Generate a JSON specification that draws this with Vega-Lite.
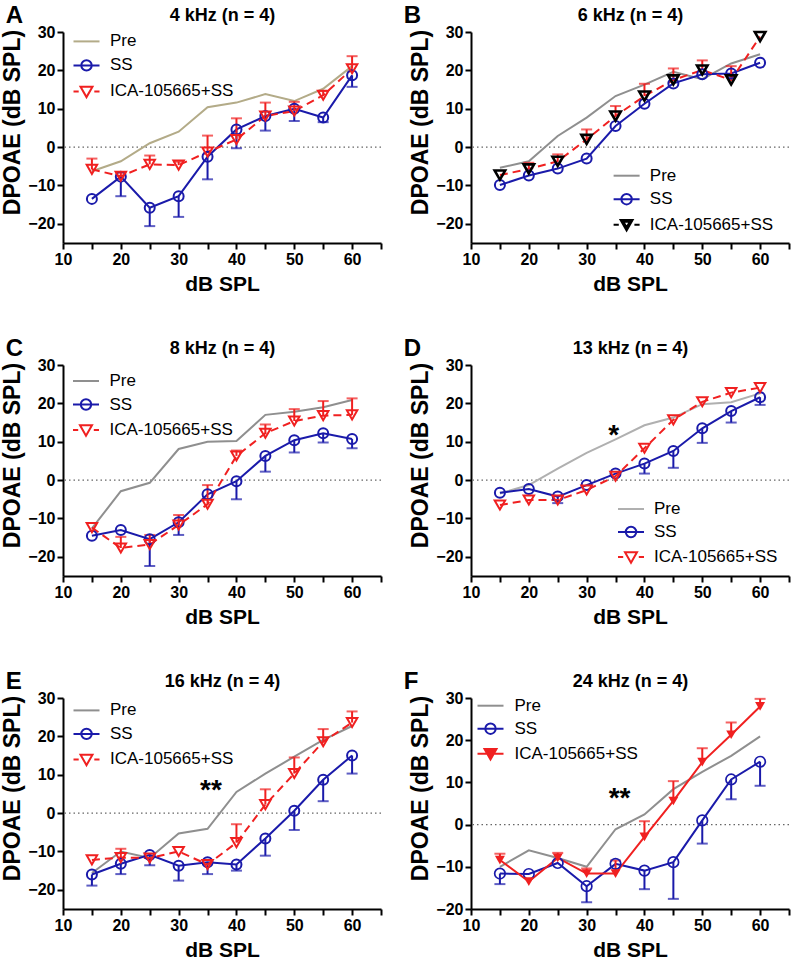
{
"$schema": "https://vega.github.io/schema/vega-lite/v6.json",
"background": "white",
"padding": {"left": 1, "top": 4, "right": 2, "bottom": 2},
"columns": 2,
"spacing": {"row": 122, "column": 90},
"bounds": "flush",
"resolve": {"scale": {"color": "independent", "shape": "independent"}, "legend": {"color": "independent", "shape": "independent"}},
"config": {
  "font": "Liberation Sans",
  "view": {"stroke": null},
  "title": {"fontSize": 24, "fontWeight": "bold", "color": "#000"},
  "axis": {"labelFont": "Liberation Sans", "labelFontWeight": "bold", "labelFontSize": 16, "labelColor": "#000", "titleFont": "Liberation Sans", "titleFontWeight": "bold", "titleFontSize": 21, "titleColor": "#000", "domainColor": "#000", "domainWidth": 2, "tickColor": "#000", "tickWidth": 2, "tickSize": 6, "grid": false, "labelFlush": false, "labelOverlap": false, "labelPadding": 2},
  "legend": {"labelFont": "Liberation Sans", "labelFontSize": 17, "labelColor": "#000", "symbolStrokeWidth": 2, "symbolSize": 676}
},
"concat": [
{
 "title": {"text": "A", "anchor": "start", "frame": "bounds", "offset": -22, "dx": 4},
 "width": 318, "height": 211,
 "resolve": {"axis": {"x": "independent", "y": "independent"}},
 "data": {"values": [
  {"spl":15,"pre":-6.3,"ss":-13.5,"ss_lo":null,"ica":-5.8,"ica_hi":-3.0},
  {"spl":20,"pre":-3.7,"ss":-7.7,"ss_lo":-12.8,"ica":-7.6,"ica_hi":-6.7},
  {"spl":25,"pre":1.0,"ss":-15.8,"ss_lo":-20.6,"ica":-4.5,"ica_hi":-2.2},
  {"spl":30,"pre":4.0,"ss":-12.8,"ss_lo":-18.2,"ica":-4.7,"ica_hi":-3.8},
  {"spl":35,"pre":10.4,"ss":-2.5,"ss_lo":-8.4,"ica":-1.3,"ica_hi":3.0},
  {"spl":40,"pre":11.6,"ss":4.6,"ss_lo":-0.3,"ica":2.0,"ica_hi":7.5},
  {"spl":45,"pre":13.8,"ss":8.1,"ss_lo":4.3,"ica":8.1,"ica_hi":11.6},
  {"spl":50,"pre":12.0,"ss":10.0,"ss_lo":6.8,"ica":9.4,"ica_hi":11.8},
  {"spl":55,"pre":15.2,"ss":7.7,"ss_lo":6.5,"ica":13.5,"ica_hi":14.6},
  {"spl":60,"pre":21.1,"ss":18.7,"ss_lo":15.7,"ica":20.4,"ica_hi":23.7}
 ]},
 "layer": [
  {"data": {"values": [{}]}, "mark": {"type": "rule", "color": "#666", "strokeWidth": 1.2, "strokeDash": [1.5, 3]}, "encoding": {"y": {"datum": 0, "type": "quantitative", "scale": {"domain": [-25, 30], "nice": false, "zero": false}, "axis": null}}},
  {"mark": {"type": "line", "color": "#b3ab88", "strokeWidth": 2}, "encoding": {"x": {"field": "spl", "type": "quantitative", "scale": {"domain": [10, 65], "nice": false, "zero": false}, "axis": {"values": [10,15,20,25,30,35,40,45,50,55,60,65], "labelExpr": "datum.value % 10 === 0 ? datum.label : ''", "title": "dB SPL", "titlePadding": 6}}, "y": {"field": "pre", "type": "quantitative", "scale": {"domain": [-25, 30], "nice": false, "zero": false}, "axis": {"values": [-20,-10,0,10,20,30], "title": "DPOAE (dB SPL)", "titleY": 90, "titleFontSize": 23, "titlePadding": 3}}}},
  {"transform": [{"filter": "isValid(datum.ss_lo)"}], "mark": {"type": "rule", "color": "#1a1aaa", "strokeWidth": 2}, "encoding": {"x": {"field": "spl", "type": "quantitative", "scale": {"domain": [10, 65], "nice": false, "zero": false}, "axis": null}, "y": {"field": "ss", "type": "quantitative", "scale": {"domain": [-25, 30], "nice": false, "zero": false}, "axis": null}, "y2": {"field": "ss_lo"}}},
  {"transform": [{"filter": "isValid(datum.ss_lo)"}], "mark": {"type": "tick", "orient": "horizontal", "color": "#1a1aaa", "size": 11, "thickness": 2}, "encoding": {"x": {"field": "spl", "type": "quantitative", "scale": {"domain": [10, 65], "nice": false, "zero": false}, "axis": null}, "y": {"field": "ss_lo", "type": "quantitative", "scale": {"domain": [-25, 30], "nice": false, "zero": false}, "axis": null}}},
  {"mark": {"type": "line", "color": "#1a1aaa", "strokeWidth": 2}, "encoding": {"x": {"field": "spl", "type": "quantitative", "scale": {"domain": [10, 65], "nice": false, "zero": false}, "axis": null}, "y": {"field": "ss", "type": "quantitative", "scale": {"domain": [-25, 30], "nice": false, "zero": false}, "axis": null}}},
  {"transform": [{"filter": "isValid(datum.ica_hi)"}], "mark": {"type": "rule", "color": "#f02020", "strokeWidth": 2}, "encoding": {"x": {"field": "spl", "type": "quantitative", "scale": {"domain": [10, 65], "nice": false, "zero": false}, "axis": null}, "y": {"field": "ica", "type": "quantitative", "scale": {"domain": [-25, 30], "nice": false, "zero": false}, "axis": null}, "y2": {"field": "ica_hi"}}},
  {"transform": [{"filter": "isValid(datum.ica_hi)"}], "mark": {"type": "tick", "orient": "horizontal", "color": "#f02020", "size": 11, "thickness": 2}, "encoding": {"x": {"field": "spl", "type": "quantitative", "scale": {"domain": [10, 65], "nice": false, "zero": false}, "axis": null}, "y": {"field": "ica_hi", "type": "quantitative", "scale": {"domain": [-25, 30], "nice": false, "zero": false}, "axis": null}}},
  {"mark": {"type": "line", "color": "#f02020", "strokeWidth": 2, "strokeDash": [8, 5]}, "encoding": {"x": {"field": "spl", "type": "quantitative", "scale": {"domain": [10, 65], "nice": false, "zero": false}, "axis": null}, "y": {"field": "ica", "type": "quantitative", "scale": {"domain": [-25, 30], "nice": false, "zero": false}, "axis": null}}},
  {"mark": {"type": "point", "shape": "circle", "filled": false, "size": 100, "strokeWidth": 2, "color": "#1a1aaa", "opacity": 1}, "encoding": {"x": {"field": "spl", "type": "quantitative", "scale": {"domain": [10, 65], "nice": false, "zero": false}, "axis": {"orient": "top", "title": "4 kHz (n = 4)", "labels": false, "ticks": false, "domain": false, "titleFontSize": 18, "titlePadding": 8}}, "y": {"field": "ss", "type": "quantitative", "scale": {"domain": [-25, 30], "nice": false, "zero": false}, "axis": null}}},
  {"mark": {"type": "point", "shape": "triangle-down", "filled": false, "size": 110, "strokeWidth": 2, "color": "#f02020", "opacity": 1}, "encoding": {"x": {"field": "spl", "type": "quantitative", "scale": {"domain": [10, 65], "nice": false, "zero": false}, "axis": null}, "y": {"field": "ica", "type": "quantitative", "scale": {"domain": [-25, 30], "nice": false, "zero": false}, "axis": null}}},
  {"data": {"values": [{"s": "Pre"}, {"s": "SS"}, {"s": "ICA-105665+SS"}]}, "transform": [{"filter": "false"}], "mark": {"type": "point", "filled": false, "strokeWidth": 2, "opacity": 1},
   "encoding": {
    "color": {"field": "s", "type": "nominal", "scale": {"domain": ["Pre", "SS", "ICA-105665+SS"], "range": ["#b3ab88", "#1a1aaa", "#f02020"]}, "legend": {"orient": "none", "legendX": 9.5, "legendY": -4.6, "padding": 0, "title": null, "symbolOffset": 0, "labelOffset": 9.5, "rowPadding": 2}},
    "shape": {"field": "s", "type": "nominal", "scale": {"domain": ["Pre", "SS", "ICA-105665+SS"], "range": ["M-1,0H1", "M-1,0H1M-0.4,0A0.4,0.4,0,1,0,0.4,0A0.4,0.4,0,1,0,-0.4,0", "M-1,0H-0.6M0.6,0H1M-0.46,-0.36L0.46,-0.36L0,0.44Z"]}, "legend": {"orient": "none", "legendX": 9.5, "legendY": -4.6, "padding": 0, "title": null, "symbolOffset": 0, "labelOffset": 9.5, "rowPadding": 2}}
   }}
 ]
},
{
 "title": {"text": "B", "anchor": "start", "frame": "bounds", "offset": -22, "dx": -6},
 "width": 318, "height": 211,
 "resolve": {"axis": {"x": "independent", "y": "independent"}},
 "data": {"values": [
  {"spl":15,"pre":-5.4,"ss":-9.9,"ss_lo":null,"ica":-7.3,"ica_hi":null},
  {"spl":20,"pre":-3.7,"ss":-7.4,"ss_lo":null,"ica":-5.7,"ica_hi":-4.1},
  {"spl":25,"pre":2.9,"ss":-5.6,"ss_lo":null,"ica":-3.7,"ica_hi":-1.9},
  {"spl":30,"pre":7.7,"ss":-3.0,"ss_lo":null,"ica":2.0,"ica_hi":4.6},
  {"spl":35,"pre":13.3,"ss":5.5,"ss_lo":null,"ica":8.1,"ica_hi":10.7},
  {"spl":40,"pre":16.3,"ss":11.3,"ss_lo":null,"ica":13.3,"ica_hi":16.5},
  {"spl":45,"pre":19.6,"ss":16.6,"ss_lo":null,"ica":17.5,"ica_hi":20.5},
  {"spl":50,"pre":17.7,"ss":19.0,"ss_lo":null,"ica":20.1,"ica_hi":22.6},
  {"spl":55,"pre":21.8,"ss":19.2,"ss_lo":null,"ica":17.5,"ica_hi":21.1},
  {"spl":60,"pre":24.2,"ss":22.0,"ss_lo":null,"ica":28.8,"ica_hi":null}
 ]},
 "layer": [
  {"data": {"values": [{}]}, "mark": {"type": "rule", "color": "#666", "strokeWidth": 1.2, "strokeDash": [1.5, 3]}, "encoding": {"y": {"datum": 0, "type": "quantitative", "scale": {"domain": [-25, 30], "nice": false, "zero": false}, "axis": null}}},
  {"mark": {"type": "line", "color": "#8f8f8f", "strokeWidth": 2}, "encoding": {"x": {"field": "spl", "type": "quantitative", "scale": {"domain": [10, 65], "nice": false, "zero": false}, "axis": {"values": [10,15,20,25,30,35,40,45,50,55,60,65], "labelExpr": "datum.value % 10 === 0 ? datum.label : ''", "title": "dB SPL", "titlePadding": 6}}, "y": {"field": "pre", "type": "quantitative", "scale": {"domain": [-25, 30], "nice": false, "zero": false}, "axis": {"values": [-20,-10,0,10,20,30], "title": "DPOAE (dB SPL)", "titleY": 90, "titleFontSize": 23, "titlePadding": 3}}}},
  {"mark": {"type": "line", "color": "#1a1aaa", "strokeWidth": 2}, "encoding": {"x": {"field": "spl", "type": "quantitative", "scale": {"domain": [10, 65], "nice": false, "zero": false}, "axis": null}, "y": {"field": "ss", "type": "quantitative", "scale": {"domain": [-25, 30], "nice": false, "zero": false}, "axis": null}}},
  {"transform": [{"filter": "isValid(datum.ica_hi)"}], "mark": {"type": "rule", "color": "#f02020", "strokeWidth": 2}, "encoding": {"x": {"field": "spl", "type": "quantitative", "scale": {"domain": [10, 65], "nice": false, "zero": false}, "axis": null}, "y": {"field": "ica", "type": "quantitative", "scale": {"domain": [-25, 30], "nice": false, "zero": false}, "axis": null}, "y2": {"field": "ica_hi"}}},
  {"transform": [{"filter": "isValid(datum.ica_hi)"}], "mark": {"type": "tick", "orient": "horizontal", "color": "#f02020", "size": 11, "thickness": 2}, "encoding": {"x": {"field": "spl", "type": "quantitative", "scale": {"domain": [10, 65], "nice": false, "zero": false}, "axis": null}, "y": {"field": "ica_hi", "type": "quantitative", "scale": {"domain": [-25, 30], "nice": false, "zero": false}, "axis": null}}},
  {"mark": {"type": "line", "color": "#f02020", "strokeWidth": 2, "strokeDash": [8, 5]}, "encoding": {"x": {"field": "spl", "type": "quantitative", "scale": {"domain": [10, 65], "nice": false, "zero": false}, "axis": null}, "y": {"field": "ica", "type": "quantitative", "scale": {"domain": [-25, 30], "nice": false, "zero": false}, "axis": null}}},
  {"mark": {"type": "point", "shape": "circle", "filled": false, "size": 100, "strokeWidth": 2, "color": "#1a1aaa", "opacity": 1}, "encoding": {"x": {"field": "spl", "type": "quantitative", "scale": {"domain": [10, 65], "nice": false, "zero": false}, "axis": {"orient": "top", "title": "6 kHz (n = 4)", "labels": false, "ticks": false, "domain": false, "titleFontSize": 18, "titlePadding": 8}}, "y": {"field": "ss", "type": "quantitative", "scale": {"domain": [-25, 30], "nice": false, "zero": false}, "axis": null}}},
  {"mark": {"type": "point", "shape": "triangle-down", "filled": false, "size": 110, "strokeWidth": 2.6, "color": "#000", "opacity": 1}, "encoding": {"x": {"field": "spl", "type": "quantitative", "scale": {"domain": [10, 65], "nice": false, "zero": false}, "axis": null}, "y": {"field": "ica", "type": "quantitative", "scale": {"domain": [-25, 30], "nice": false, "zero": false}, "axis": null}}},
  {"data": {"values": [{"s": "Pre"}, {"s": "SS"}, {"s": "ICA-105665+SS"}]}, "transform": [{"filter": "false"}], "mark": {"type": "point", "filled": false, "strokeWidth": 2, "opacity": 1},
   "encoding": {
    "color": {"field": "s", "type": "nominal", "scale": {"domain": ["Pre", "SS", "ICA-105665+SS"], "range": ["#8f8f8f", "#1a1aaa", "#000000"]}, "legend": {"orient": "none", "legendX": 141.6, "legendY": 129.7, "padding": 0, "title": null, "symbolOffset": 0, "labelOffset": 9.2, "rowPadding": 1.5}},
    "shape": {"field": "s", "type": "nominal", "scale": {"domain": ["Pre", "SS", "ICA-105665+SS"], "range": ["M-1,0H1", "M-1,0H1M-0.4,0A0.4,0.4,0,1,0,0.4,0A0.4,0.4,0,1,0,-0.4,0", "M-1,0H-0.6M0.6,0H1M-0.46,-0.36L0.46,-0.36L0,0.44ZM-0.25,-0.22L0.25,-0.22L0,0.2Z"]}, "legend": {"orient": "none", "legendX": 141.6, "legendY": 129.7, "padding": 0, "title": null, "symbolOffset": 0, "labelOffset": 9.2, "rowPadding": 1.5}}
   }}
 ]
},
{
 "title": {"text": "C", "anchor": "start", "frame": "bounds", "offset": -22, "dx": 4},
 "width": 318, "height": 211,
 "resolve": {"axis": {"x": "independent", "y": "independent"}},
 "data": {"values": [
  {"spl":15,"pre":-12.6,"ss":-14.5,"ss_lo":null,"ica":-12.4,"ica_hi":null},
  {"spl":20,"pre":-2.9,"ss":-13.0,"ss_lo":null,"ica":-17.7,"ica_hi":-14.8},
  {"spl":25,"pre":-0.7,"ss":-15.4,"ss_lo":-22.4,"ica":-16.8,"ica_hi":-14.3},
  {"spl":30,"pre":8.1,"ss":-11.0,"ss_lo":-14.3,"ica":-11.7,"ica_hi":-9.1},
  {"spl":35,"pre":10.0,"ss":-3.7,"ss_lo":null,"ica":-6.3,"ica_hi":-1.3},
  {"spl":40,"pre":10.2,"ss":-0.3,"ss_lo":-5.0,"ica":6.3,"ica_hi":7.7},
  {"spl":45,"pre":17.0,"ss":6.3,"ss_lo":2.2,"ica":12.2,"ica_hi":14.5},
  {"spl":50,"pre":17.8,"ss":10.4,"ss_lo":7.2,"ica":15.4,"ica_hi":18.5},
  {"spl":55,"pre":19.0,"ss":12.2,"ss_lo":9.8,"ica":16.8,"ica_hi":20.6},
  {"spl":60,"pre":20.9,"ss":10.7,"ss_lo":8.3,"ica":17.0,"ica_hi":21.3}
 ]},
 "layer": [
  {"data": {"values": [{}]}, "mark": {"type": "rule", "color": "#666", "strokeWidth": 1.2, "strokeDash": [1.5, 3]}, "encoding": {"y": {"datum": 0, "type": "quantitative", "scale": {"domain": [-25, 30], "nice": false, "zero": false}, "axis": null}}},
  {"mark": {"type": "line", "color": "#8f8f8f", "strokeWidth": 2}, "encoding": {"x": {"field": "spl", "type": "quantitative", "scale": {"domain": [10, 65], "nice": false, "zero": false}, "axis": {"values": [10,15,20,25,30,35,40,45,50,55,60,65], "labelExpr": "datum.value % 10 === 0 ? datum.label : ''", "title": "dB SPL", "titlePadding": 6}}, "y": {"field": "pre", "type": "quantitative", "scale": {"domain": [-25, 30], "nice": false, "zero": false}, "axis": {"values": [-20,-10,0,10,20,30], "title": "DPOAE (dB SPL)", "titleY": 90, "titleFontSize": 23, "titlePadding": 3}}}},
  {"transform": [{"filter": "isValid(datum.ss_lo)"}], "mark": {"type": "rule", "color": "#1a1aaa", "strokeWidth": 2}, "encoding": {"x": {"field": "spl", "type": "quantitative", "scale": {"domain": [10, 65], "nice": false, "zero": false}, "axis": null}, "y": {"field": "ss", "type": "quantitative", "scale": {"domain": [-25, 30], "nice": false, "zero": false}, "axis": null}, "y2": {"field": "ss_lo"}}},
  {"transform": [{"filter": "isValid(datum.ss_lo)"}], "mark": {"type": "tick", "orient": "horizontal", "color": "#1a1aaa", "size": 11, "thickness": 2}, "encoding": {"x": {"field": "spl", "type": "quantitative", "scale": {"domain": [10, 65], "nice": false, "zero": false}, "axis": null}, "y": {"field": "ss_lo", "type": "quantitative", "scale": {"domain": [-25, 30], "nice": false, "zero": false}, "axis": null}}},
  {"mark": {"type": "line", "color": "#1a1aaa", "strokeWidth": 2}, "encoding": {"x": {"field": "spl", "type": "quantitative", "scale": {"domain": [10, 65], "nice": false, "zero": false}, "axis": null}, "y": {"field": "ss", "type": "quantitative", "scale": {"domain": [-25, 30], "nice": false, "zero": false}, "axis": null}}},
  {"transform": [{"filter": "isValid(datum.ica_hi)"}], "mark": {"type": "rule", "color": "#f02020", "strokeWidth": 2}, "encoding": {"x": {"field": "spl", "type": "quantitative", "scale": {"domain": [10, 65], "nice": false, "zero": false}, "axis": null}, "y": {"field": "ica", "type": "quantitative", "scale": {"domain": [-25, 30], "nice": false, "zero": false}, "axis": null}, "y2": {"field": "ica_hi"}}},
  {"transform": [{"filter": "isValid(datum.ica_hi)"}], "mark": {"type": "tick", "orient": "horizontal", "color": "#f02020", "size": 11, "thickness": 2}, "encoding": {"x": {"field": "spl", "type": "quantitative", "scale": {"domain": [10, 65], "nice": false, "zero": false}, "axis": null}, "y": {"field": "ica_hi", "type": "quantitative", "scale": {"domain": [-25, 30], "nice": false, "zero": false}, "axis": null}}},
  {"mark": {"type": "line", "color": "#f02020", "strokeWidth": 2, "strokeDash": [8, 5]}, "encoding": {"x": {"field": "spl", "type": "quantitative", "scale": {"domain": [10, 65], "nice": false, "zero": false}, "axis": null}, "y": {"field": "ica", "type": "quantitative", "scale": {"domain": [-25, 30], "nice": false, "zero": false}, "axis": null}}},
  {"mark": {"type": "point", "shape": "circle", "filled": false, "size": 100, "strokeWidth": 2, "color": "#1a1aaa", "opacity": 1}, "encoding": {"x": {"field": "spl", "type": "quantitative", "scale": {"domain": [10, 65], "nice": false, "zero": false}, "axis": {"orient": "top", "title": "8 kHz (n = 4)", "labels": false, "ticks": false, "domain": false, "titleFontSize": 18, "titlePadding": 8}}, "y": {"field": "ss", "type": "quantitative", "scale": {"domain": [-25, 30], "nice": false, "zero": false}, "axis": null}}},
  {"mark": {"type": "point", "shape": "triangle-down", "filled": false, "size": 110, "strokeWidth": 2, "color": "#f02020", "opacity": 1}, "encoding": {"x": {"field": "spl", "type": "quantitative", "scale": {"domain": [10, 65], "nice": false, "zero": false}, "axis": null}, "y": {"field": "ica", "type": "quantitative", "scale": {"domain": [-25, 30], "nice": false, "zero": false}, "axis": null}}},
  {"data": {"values": [{"s": "Pre"}, {"s": "SS"}, {"s": "ICA-105665+SS"}]}, "transform": [{"filter": "false"}], "mark": {"type": "point", "filled": false, "strokeWidth": 2, "opacity": 1},
   "encoding": {
    "color": {"field": "s", "type": "nominal", "scale": {"domain": ["Pre", "SS", "ICA-105665+SS"], "range": ["#8f8f8f", "#1a1aaa", "#f02020"]}, "legend": {"orient": "none", "legendX": 9, "legendY": 2, "padding": 0, "title": null, "symbolOffset": 0, "labelOffset": 9.5, "rowPadding": 1.5}},
    "shape": {"field": "s", "type": "nominal", "scale": {"domain": ["Pre", "SS", "ICA-105665+SS"], "range": ["M-1,0H1", "M-1,0H1M-0.4,0A0.4,0.4,0,1,0,0.4,0A0.4,0.4,0,1,0,-0.4,0", "M-1,0H-0.6M0.6,0H1M-0.46,-0.36L0.46,-0.36L0,0.44Z"]}, "legend": {"orient": "none", "legendX": 9, "legendY": 2, "padding": 0, "title": null, "symbolOffset": 0, "labelOffset": 9.5, "rowPadding": 1.5}}
   }}
 ]
},
{
 "title": {"text": "D", "anchor": "start", "frame": "bounds", "offset": -22, "dx": -6},
 "width": 318, "height": 211,
 "resolve": {"axis": {"x": "independent", "y": "independent"}},
 "data": {"values": [
  {"spl":15,"pre":-3.5,"ss":-3.3,"ss_lo":null,"ica":-6.5,"ica_hi":null},
  {"spl":20,"pre":-1.3,"ss":-2.3,"ss_lo":null,"ica":-5.2,"ica_hi":null},
  {"spl":25,"pre":3.0,"ss":-4.3,"ss_lo":-6.0,"ica":-5.2,"ica_hi":null},
  {"spl":30,"pre":7.1,"ss":-1.3,"ss_lo":null,"ica":-2.6,"ica_hi":null},
  {"spl":35,"pre":10.6,"ss":1.7,"ss_lo":null,"ica":1.0,"ica_hi":null},
  {"spl":40,"pre":14.3,"ss":4.3,"ss_lo":1.7,"ica":8.3,"ica_hi":null},
  {"spl":45,"pre":16.3,"ss":7.6,"ss_lo":3.2,"ica":15.7,"ica_hi":null},
  {"spl":50,"pre":19.8,"ss":13.5,"ss_lo":9.7,"ica":20.4,"ica_hi":null},
  {"spl":55,"pre":20.3,"ss":18.0,"ss_lo":15.0,"ica":22.8,"ica_hi":null},
  {"spl":60,"pre":22.6,"ss":21.6,"ss_lo":19.6,"ica":24.1,"ica_hi":null}
 ]},
 "layer": [
  {"data": {"values": [{}]}, "mark": {"type": "rule", "color": "#666", "strokeWidth": 1.2, "strokeDash": [1.5, 3]}, "encoding": {"y": {"datum": 0, "type": "quantitative", "scale": {"domain": [-25, 30], "nice": false, "zero": false}, "axis": null}}},
  {"mark": {"type": "line", "color": "#b0b0b0", "strokeWidth": 2}, "encoding": {"x": {"field": "spl", "type": "quantitative", "scale": {"domain": [10, 65], "nice": false, "zero": false}, "axis": {"values": [10,15,20,25,30,35,40,45,50,55,60,65], "labelExpr": "datum.value % 10 === 0 ? datum.label : ''", "title": "dB SPL", "titlePadding": 6}}, "y": {"field": "pre", "type": "quantitative", "scale": {"domain": [-25, 30], "nice": false, "zero": false}, "axis": {"values": [-20,-10,0,10,20,30], "title": "DPOAE (dB SPL)", "titleY": 90, "titleFontSize": 23, "titlePadding": 3}}}},
  {"transform": [{"filter": "isValid(datum.ss_lo)"}], "mark": {"type": "rule", "color": "#1a1aaa", "strokeWidth": 2}, "encoding": {"x": {"field": "spl", "type": "quantitative", "scale": {"domain": [10, 65], "nice": false, "zero": false}, "axis": null}, "y": {"field": "ss", "type": "quantitative", "scale": {"domain": [-25, 30], "nice": false, "zero": false}, "axis": null}, "y2": {"field": "ss_lo"}}},
  {"transform": [{"filter": "isValid(datum.ss_lo)"}], "mark": {"type": "tick", "orient": "horizontal", "color": "#1a1aaa", "size": 11, "thickness": 2}, "encoding": {"x": {"field": "spl", "type": "quantitative", "scale": {"domain": [10, 65], "nice": false, "zero": false}, "axis": null}, "y": {"field": "ss_lo", "type": "quantitative", "scale": {"domain": [-25, 30], "nice": false, "zero": false}, "axis": null}}},
  {"mark": {"type": "line", "color": "#1a1aaa", "strokeWidth": 2}, "encoding": {"x": {"field": "spl", "type": "quantitative", "scale": {"domain": [10, 65], "nice": false, "zero": false}, "axis": null}, "y": {"field": "ss", "type": "quantitative", "scale": {"domain": [-25, 30], "nice": false, "zero": false}, "axis": null}}},
  {"mark": {"type": "line", "color": "#f02020", "strokeWidth": 2, "strokeDash": [8, 5]}, "encoding": {"x": {"field": "spl", "type": "quantitative", "scale": {"domain": [10, 65], "nice": false, "zero": false}, "axis": null}, "y": {"field": "ica", "type": "quantitative", "scale": {"domain": [-25, 30], "nice": false, "zero": false}, "axis": null}}},
  {"mark": {"type": "point", "shape": "circle", "filled": false, "size": 100, "strokeWidth": 2, "color": "#1a1aaa", "opacity": 1}, "encoding": {"x": {"field": "spl", "type": "quantitative", "scale": {"domain": [10, 65], "nice": false, "zero": false}, "axis": {"orient": "top", "title": "13 kHz (n = 4)", "labels": false, "ticks": false, "domain": false, "titleFontSize": 18, "titlePadding": 8}}, "y": {"field": "ss", "type": "quantitative", "scale": {"domain": [-25, 30], "nice": false, "zero": false}, "axis": null}}},
  {"mark": {"type": "point", "shape": "triangle-down", "filled": false, "size": 110, "strokeWidth": 2, "color": "#f02020", "opacity": 1}, "encoding": {"x": {"field": "spl", "type": "quantitative", "scale": {"domain": [10, 65], "nice": false, "zero": false}, "axis": null}, "y": {"field": "ica", "type": "quantitative", "scale": {"domain": [-25, 30], "nice": false, "zero": false}, "axis": null}}},
  {"data": {"values": [{"spl": 34.7, "y": 11.6, "t": "*"}]}, "mark": {"type": "text", "fontSize": 28, "fontWeight": "bold", "color": "#000", "baseline": "middle"}, "encoding": {"x": {"field": "spl", "type": "quantitative", "scale": {"domain": [10, 65], "nice": false, "zero": false}, "axis": null}, "y": {"field": "y", "type": "quantitative", "scale": {"domain": [-25, 30], "nice": false, "zero": false}, "axis": null}, "text": {"field": "t"}}},
  {"data": {"values": [{"s": "Pre"}, {"s": "SS"}, {"s": "ICA-105665+SS"}]}, "transform": [{"filter": "false"}], "mark": {"type": "point", "filled": false, "strokeWidth": 2, "opacity": 1},
   "encoding": {
    "color": {"field": "s", "type": "nominal", "scale": {"domain": ["Pre", "SS", "ICA-105665+SS"], "range": ["#b0b0b0", "#1a1aaa", "#f02020"]}, "legend": {"orient": "none", "legendX": 146, "legendY": 130, "padding": 0, "title": null, "symbolOffset": 0, "labelOffset": 9, "rowPadding": 1}},
    "shape": {"field": "s", "type": "nominal", "scale": {"domain": ["Pre", "SS", "ICA-105665+SS"], "range": ["M-1,0H1", "M-1,0H1M-0.4,0A0.4,0.4,0,1,0,0.4,0A0.4,0.4,0,1,0,-0.4,0", "M-1,0H-0.6M0.6,0H1M-0.46,-0.36L0.46,-0.36L0,0.44Z"]}, "legend": {"orient": "none", "legendX": 146, "legendY": 130, "padding": 0, "title": null, "symbolOffset": 0, "labelOffset": 9, "rowPadding": 1}}
   }}
 ]
},
{
 "title": {"text": "E", "anchor": "start", "frame": "bounds", "offset": -22, "dx": 4},
 "width": 318, "height": 211,
 "resolve": {"axis": {"x": "independent", "y": "independent"}},
 "data": {"values": [
  {"spl":15,"pre":-15.6,"ss":-16.0,"ss_lo":-18.9,"ica":-12.2,"ica_hi":null},
  {"spl":20,"pre":-10.0,"ss":-13.2,"ss_lo":-15.9,"ica":-11.6,"ica_hi":-9.3},
  {"spl":25,"pre":-11.7,"ss":-10.9,"ss_lo":-13.6,"ica":-11.7,"ica_hi":null},
  {"spl":30,"pre":-5.3,"ss":-13.7,"ss_lo":-17.6,"ica":-10.0,"ica_hi":null},
  {"spl":35,"pre":-4.1,"ss":-12.8,"ss_lo":-15.9,"ica":-13.4,"ica_hi":null},
  {"spl":40,"pre":5.5,"ss":-13.4,"ss_lo":-15.0,"ica":-7.7,"ica_hi":-2.9},
  {"spl":45,"pre":10.3,"ss":-6.6,"ss_lo":-11.1,"ica":2.2,"ica_hi":6.2},
  {"spl":50,"pre":14.7,"ss":0.6,"ss_lo":-4.4,"ica":10.3,"ica_hi":14.5},
  {"spl":55,"pre":19.1,"ss":8.7,"ss_lo":3.1,"ica":18.6,"ica_hi":21.9},
  {"spl":60,"pre":22.7,"ss":15.0,"ss_lo":10.3,"ica":23.6,"ica_hi":26.5}
 ]},
 "layer": [
  {"data": {"values": [{}]}, "mark": {"type": "rule", "color": "#666", "strokeWidth": 1.2, "strokeDash": [1.5, 3]}, "encoding": {"y": {"datum": 0, "type": "quantitative", "scale": {"domain": [-25, 30], "nice": false, "zero": false}, "axis": null}}},
  {"mark": {"type": "line", "color": "#8f8f8f", "strokeWidth": 2}, "encoding": {"x": {"field": "spl", "type": "quantitative", "scale": {"domain": [10, 65], "nice": false, "zero": false}, "axis": {"values": [10,15,20,25,30,35,40,45,50,55,60,65], "labelExpr": "datum.value % 10 === 0 ? datum.label : ''", "title": "dB SPL", "titlePadding": 6}}, "y": {"field": "pre", "type": "quantitative", "scale": {"domain": [-25, 30], "nice": false, "zero": false}, "axis": {"values": [-20,-10,0,10,20,30], "title": "DPOAE (dB SPL)", "titleY": 90, "titleFontSize": 23, "titlePadding": 3}}}},
  {"transform": [{"filter": "isValid(datum.ss_lo)"}], "mark": {"type": "rule", "color": "#1a1aaa", "strokeWidth": 2}, "encoding": {"x": {"field": "spl", "type": "quantitative", "scale": {"domain": [10, 65], "nice": false, "zero": false}, "axis": null}, "y": {"field": "ss", "type": "quantitative", "scale": {"domain": [-25, 30], "nice": false, "zero": false}, "axis": null}, "y2": {"field": "ss_lo"}}},
  {"transform": [{"filter": "isValid(datum.ss_lo)"}], "mark": {"type": "tick", "orient": "horizontal", "color": "#1a1aaa", "size": 11, "thickness": 2}, "encoding": {"x": {"field": "spl", "type": "quantitative", "scale": {"domain": [10, 65], "nice": false, "zero": false}, "axis": null}, "y": {"field": "ss_lo", "type": "quantitative", "scale": {"domain": [-25, 30], "nice": false, "zero": false}, "axis": null}}},
  {"mark": {"type": "line", "color": "#1a1aaa", "strokeWidth": 2}, "encoding": {"x": {"field": "spl", "type": "quantitative", "scale": {"domain": [10, 65], "nice": false, "zero": false}, "axis": null}, "y": {"field": "ss", "type": "quantitative", "scale": {"domain": [-25, 30], "nice": false, "zero": false}, "axis": null}}},
  {"transform": [{"filter": "isValid(datum.ica_hi)"}], "mark": {"type": "rule", "color": "#f02020", "strokeWidth": 2}, "encoding": {"x": {"field": "spl", "type": "quantitative", "scale": {"domain": [10, 65], "nice": false, "zero": false}, "axis": null}, "y": {"field": "ica", "type": "quantitative", "scale": {"domain": [-25, 30], "nice": false, "zero": false}, "axis": null}, "y2": {"field": "ica_hi"}}},
  {"transform": [{"filter": "isValid(datum.ica_hi)"}], "mark": {"type": "tick", "orient": "horizontal", "color": "#f02020", "size": 11, "thickness": 2}, "encoding": {"x": {"field": "spl", "type": "quantitative", "scale": {"domain": [10, 65], "nice": false, "zero": false}, "axis": null}, "y": {"field": "ica_hi", "type": "quantitative", "scale": {"domain": [-25, 30], "nice": false, "zero": false}, "axis": null}}},
  {"mark": {"type": "line", "color": "#f02020", "strokeWidth": 2, "strokeDash": [8, 5]}, "encoding": {"x": {"field": "spl", "type": "quantitative", "scale": {"domain": [10, 65], "nice": false, "zero": false}, "axis": null}, "y": {"field": "ica", "type": "quantitative", "scale": {"domain": [-25, 30], "nice": false, "zero": false}, "axis": null}}},
  {"mark": {"type": "point", "shape": "circle", "filled": false, "size": 100, "strokeWidth": 2, "color": "#1a1aaa", "opacity": 1}, "encoding": {"x": {"field": "spl", "type": "quantitative", "scale": {"domain": [10, 65], "nice": false, "zero": false}, "axis": {"orient": "top", "title": "16 kHz (n = 4)", "labels": false, "ticks": false, "domain": false, "titleFontSize": 18, "titlePadding": 8}}, "y": {"field": "ss", "type": "quantitative", "scale": {"domain": [-25, 30], "nice": false, "zero": false}, "axis": null}}},
  {"mark": {"type": "point", "shape": "triangle-down", "filled": false, "size": 110, "strokeWidth": 2, "color": "#f02020", "opacity": 1}, "encoding": {"x": {"field": "spl", "type": "quantitative", "scale": {"domain": [10, 65], "nice": false, "zero": false}, "axis": null}, "y": {"field": "ica", "type": "quantitative", "scale": {"domain": [-25, 30], "nice": false, "zero": false}, "axis": null}}},
  {"data": {"values": [{"spl": 35.6, "y": 5.7, "t": "**"}]}, "mark": {"type": "text", "fontSize": 28, "fontWeight": "bold", "color": "#000", "baseline": "middle"}, "encoding": {"x": {"field": "spl", "type": "quantitative", "scale": {"domain": [10, 65], "nice": false, "zero": false}, "axis": null}, "y": {"field": "y", "type": "quantitative", "scale": {"domain": [-25, 30], "nice": false, "zero": false}, "axis": null}, "text": {"field": "t"}}},
  {"data": {"values": [{"s": "Pre"}, {"s": "SS"}, {"s": "ICA-105665+SS"}]}, "transform": [{"filter": "false"}], "mark": {"type": "point", "filled": false, "strokeWidth": 2, "opacity": 1},
   "encoding": {
    "color": {"field": "s", "type": "nominal", "scale": {"domain": ["Pre", "SS", "ICA-105665+SS"], "range": ["#8f8f8f", "#1a1aaa", "#f02020"]}, "legend": {"orient": "none", "legendX": 9.5, "legendY": -1.6, "padding": 0, "title": null, "symbolOffset": 0, "labelOffset": 9.5, "rowPadding": 1.5}},
    "shape": {"field": "s", "type": "nominal", "scale": {"domain": ["Pre", "SS", "ICA-105665+SS"], "range": ["M-1,0H1", "M-1,0H1M-0.4,0A0.4,0.4,0,1,0,0.4,0A0.4,0.4,0,1,0,-0.4,0", "M-1,0H-0.6M0.6,0H1M-0.46,-0.36L0.46,-0.36L0,0.44Z"]}, "legend": {"orient": "none", "legendX": 9.5, "legendY": -1.6, "padding": 0, "title": null, "symbolOffset": 0, "labelOffset": 9.5, "rowPadding": 1.5}}
   }}
 ]
},
{
 "title": {"text": "F", "anchor": "start", "frame": "bounds", "offset": -22, "dx": -6},
 "width": 318, "height": 211,
 "resolve": {"axis": {"x": "independent", "y": "independent"}},
 "data": {"values": [
  {"spl":15,"pre":-10.0,"ss":-11.6,"ss_lo":-14.1,"ica":-8.4,"ica_hi":-6.9},
  {"spl":20,"pre":-6.1,"ss":-11.7,"ss_lo":null,"ica":-13.5,"ica_hi":null},
  {"spl":25,"pre":-7.9,"ss":-9.1,"ss_lo":null,"ica":-7.9,"ica_hi":-6.7},
  {"spl":30,"pre":-10.0,"ss":-14.6,"ss_lo":-18.4,"ica":-11.6,"ica_hi":-10.4},
  {"spl":35,"pre":-1.1,"ss":-9.3,"ss_lo":null,"ica":-11.6,"ica_hi":-8.5},
  {"spl":40,"pre":2.4,"ss":-10.9,"ss_lo":-15.3,"ica":-2.9,"ica_hi":0.8},
  {"spl":45,"pre":8.4,"ss":-8.9,"ss_lo":-17.6,"ica":5.6,"ica_hi":10.3},
  {"spl":50,"pre":12.5,"ss":1.0,"ss_lo":-4.5,"ica":14.8,"ica_hi":18.1},
  {"spl":55,"pre":16.3,"ss":10.7,"ss_lo":6.0,"ica":21.3,"ica_hi":24.2},
  {"spl":60,"pre":20.9,"ss":14.9,"ss_lo":9.2,"ica":28.0,"ica_hi":29.8}
 ]},
 "layer": [
  {"data": {"values": [{}]}, "mark": {"type": "rule", "color": "#666", "strokeWidth": 1.2, "strokeDash": [1.5, 3]}, "encoding": {"y": {"datum": 0, "type": "quantitative", "scale": {"domain": [-20, 30], "nice": false, "zero": false}, "axis": null}}},
  {"mark": {"type": "line", "color": "#8f8f8f", "strokeWidth": 2}, "encoding": {"x": {"field": "spl", "type": "quantitative", "scale": {"domain": [10, 65], "nice": false, "zero": false}, "axis": {"values": [10,15,20,25,30,35,40,45,50,55,60,65], "labelExpr": "datum.value % 10 === 0 ? datum.label : ''", "title": "dB SPL", "titlePadding": 6}}, "y": {"field": "pre", "type": "quantitative", "scale": {"domain": [-20, 30], "nice": false, "zero": false}, "axis": {"values": [-20,-10,0,10,20,30], "title": "DPOAE (dB SPL)", "titleY": 90, "titleFontSize": 23, "titlePadding": 3}}}},
  {"transform": [{"filter": "isValid(datum.ss_lo)"}], "mark": {"type": "rule", "color": "#1a1aaa", "strokeWidth": 2}, "encoding": {"x": {"field": "spl", "type": "quantitative", "scale": {"domain": [10, 65], "nice": false, "zero": false}, "axis": null}, "y": {"field": "ss", "type": "quantitative", "scale": {"domain": [-20, 30], "nice": false, "zero": false}, "axis": null}, "y2": {"field": "ss_lo"}}},
  {"transform": [{"filter": "isValid(datum.ss_lo)"}], "mark": {"type": "tick", "orient": "horizontal", "color": "#1a1aaa", "size": 11, "thickness": 2}, "encoding": {"x": {"field": "spl", "type": "quantitative", "scale": {"domain": [10, 65], "nice": false, "zero": false}, "axis": null}, "y": {"field": "ss_lo", "type": "quantitative", "scale": {"domain": [-20, 30], "nice": false, "zero": false}, "axis": null}}},
  {"mark": {"type": "line", "color": "#1a1aaa", "strokeWidth": 2}, "encoding": {"x": {"field": "spl", "type": "quantitative", "scale": {"domain": [10, 65], "nice": false, "zero": false}, "axis": null}, "y": {"field": "ss", "type": "quantitative", "scale": {"domain": [-20, 30], "nice": false, "zero": false}, "axis": null}}},
  {"transform": [{"filter": "isValid(datum.ica_hi)"}], "mark": {"type": "rule", "color": "#f02020", "strokeWidth": 2}, "encoding": {"x": {"field": "spl", "type": "quantitative", "scale": {"domain": [10, 65], "nice": false, "zero": false}, "axis": null}, "y": {"field": "ica", "type": "quantitative", "scale": {"domain": [-20, 30], "nice": false, "zero": false}, "axis": null}, "y2": {"field": "ica_hi"}}},
  {"transform": [{"filter": "isValid(datum.ica_hi)"}], "mark": {"type": "tick", "orient": "horizontal", "color": "#f02020", "size": 11, "thickness": 2}, "encoding": {"x": {"field": "spl", "type": "quantitative", "scale": {"domain": [10, 65], "nice": false, "zero": false}, "axis": null}, "y": {"field": "ica_hi", "type": "quantitative", "scale": {"domain": [-20, 30], "nice": false, "zero": false}, "axis": null}}},
  {"mark": {"type": "line", "color": "#f02020", "strokeWidth": 2}, "encoding": {"x": {"field": "spl", "type": "quantitative", "scale": {"domain": [10, 65], "nice": false, "zero": false}, "axis": null}, "y": {"field": "ica", "type": "quantitative", "scale": {"domain": [-20, 30], "nice": false, "zero": false}, "axis": null}}},
  {"mark": {"type": "point", "shape": "circle", "filled": false, "size": 110, "strokeWidth": 1.7, "color": "#1a1aaa", "opacity": 1}, "encoding": {"x": {"field": "spl", "type": "quantitative", "scale": {"domain": [10, 65], "nice": false, "zero": false}, "axis": {"orient": "top", "title": "24 kHz (n = 4)", "labels": false, "ticks": false, "domain": false, "titleFontSize": 18, "titlePadding": 8}}, "y": {"field": "ss", "type": "quantitative", "scale": {"domain": [-20, 30], "nice": false, "zero": false}, "axis": null}}},
  {"mark": {"type": "point", "shape": "triangle-down", "filled": true, "size": 100, "strokeWidth": 1, "color": "#f02020", "opacity": 1}, "encoding": {"x": {"field": "spl", "type": "quantitative", "scale": {"domain": [10, 65], "nice": false, "zero": false}, "axis": null}, "y": {"field": "ica", "type": "quantitative", "scale": {"domain": [-20, 30], "nice": false, "zero": false}, "axis": null}}},
  {"data": {"values": [{"spl": 35.7, "y": 6.0, "t": "**"}]}, "mark": {"type": "text", "fontSize": 28, "fontWeight": "bold", "color": "#000", "baseline": "middle"}, "encoding": {"x": {"field": "spl", "type": "quantitative", "scale": {"domain": [10, 65], "nice": false, "zero": false}, "axis": null}, "y": {"field": "y", "type": "quantitative", "scale": {"domain": [-20, 30], "nice": false, "zero": false}, "axis": null}, "text": {"field": "t"}}},
  {"data": {"values": [{"s": "Pre"}, {"s": "SS"}, {"s": "ICA-105665+SS"}]}, "transform": [{"filter": "false"}], "mark": {"type": "point", "filled": false, "strokeWidth": 2, "opacity": 1},
   "encoding": {
    "color": {"field": "s", "type": "nominal", "scale": {"domain": ["Pre", "SS", "ICA-105665+SS"], "range": ["#8f8f8f", "#1a1aaa", "#f02020"]}, "legend": {"orient": "none", "legendX": 5.5, "legendY": -6.3, "padding": 0, "title": null, "symbolOffset": 0, "labelOffset": 10, "rowPadding": 1}},
    "shape": {"field": "s", "type": "nominal", "scale": {"domain": ["Pre", "SS", "ICA-105665+SS"], "range": ["M-1,0H1", "M-1,0H1M-0.4,0A0.4,0.4,0,1,0,0.4,0A0.4,0.4,0,1,0,-0.4,0", "M-1,0H1M-0.46,-0.36L0.46,-0.36L0,0.44ZM-0.28,-0.22L0.28,-0.22L0,0.24ZM-0.1,-0.1L0.1,-0.1L0,0.05Z"]}, "legend": {"orient": "none", "legendX": 5.5, "legendY": -6.3, "padding": 0, "title": null, "symbolOffset": 0, "labelOffset": 10, "rowPadding": 1}}
   }}
 ]
}
]
}
